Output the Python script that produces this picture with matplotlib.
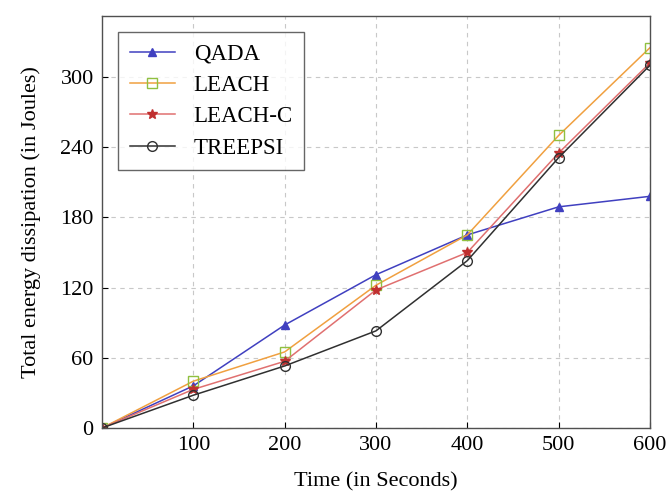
import numpy as np
import matplotlib.pyplot as plt

plt.rcParams['font.family'] = ['Liberation Serif', 'DejaVu Serif']

time = [0, 100, 200, 300, 400, 500, 600]
qada = [0, 36, 88, 131, 165, 189, 198]
leach = [0, 40, 65, 122, 165, 250, 325]
leach_c = [0, 33, 57, 118, 150, 235, 312]
treepsi = [0, 28, 53, 83, 143, 231, 310]

fig = plt.figure(figsize=(6.69, 4.95), dpi=100)
ax = fig.add_axes([0.1525, 0.1354, 0.819, 0.832])

ax.plot(time, qada, color='#4040c0', marker='^', ms=6, lw=1.1,
        markerfacecolor='#4040c0', label='QADA')
ax.plot(time, leach, color='#f0a040', marker='s', ms=7, lw=1.1,
        markerfacecolor='none', markeredgecolor='#90c040', label='LEACH')
ax.plot(time, leach_c, color='#e07070', marker='*', ms=7, lw=1.1,
        markerfacecolor='#c03030', markeredgecolor='#c03030', label='LEACH-C')
ax.plot(time, treepsi, color='#303030', marker='o', ms=7, lw=1.1,
        markerfacecolor='none', markeredgecolor='#303030', label='TREEPSI')

ax.set_xlim(0, 600)
ax.set_ylim(0, 352)
ax.set_xticks([100, 200, 300, 400, 500, 600])
ax.set_yticks([0, 60, 120, 180, 240, 300])
ax.tick_params(labelsize=16, direction='in', length=4, pad=6)
ax.grid(True, linestyle=(0, (4, 4)), color='#c8c8c8', lw=0.8)
ax.set_axisbelow(True)
for s in ax.spines.values():
    s.set_color('#505050')
    s.set_linewidth(1.0)

ax.set_xlabel('Time (in Seconds)', fontsize=16, labelpad=12)
ax.set_ylabel('Total energy dissipation (in Joules)', fontsize=16, labelpad=14)

leg = ax.legend(loc='upper left', fontsize=16.5, frameon=True, fancybox=False,
                edgecolor='#404040', borderaxespad=0.7, handlelength=2.0,
                labelspacing=0.45, borderpad=0.5)
leg.get_frame().set_linewidth(1.0)

plt.savefig('out.png', dpi=100)
